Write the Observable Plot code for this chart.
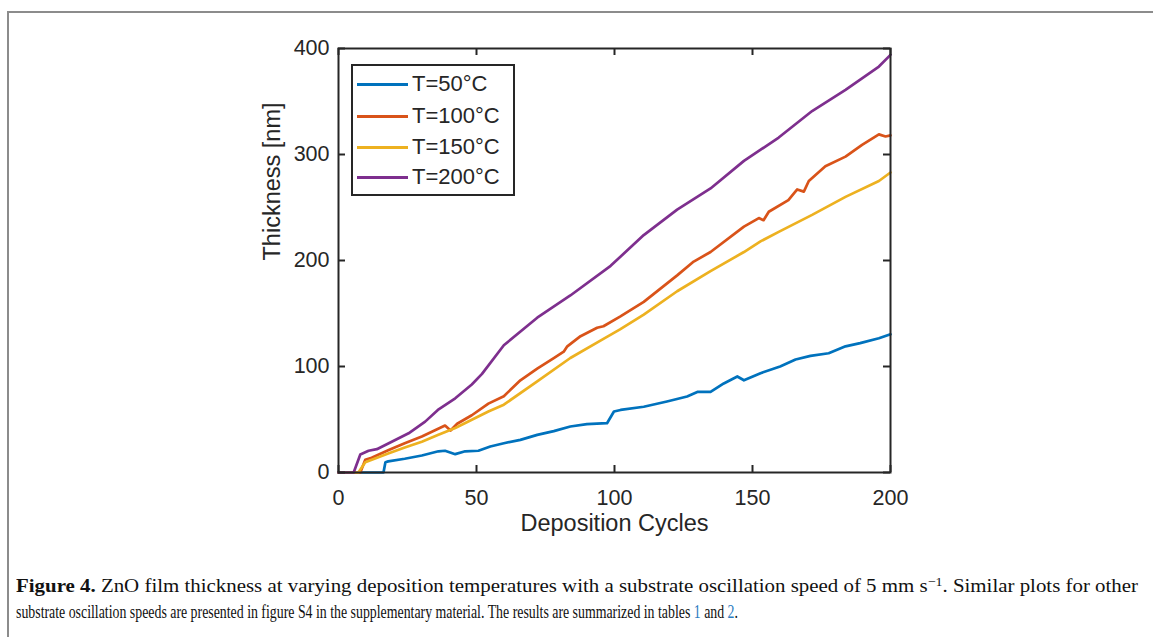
<!DOCTYPE html>
<html><head><meta charset="utf-8">
<script src="https://cdn.jsdelivr.net/npm/d3@7"></script>
<script src="https://cdn.jsdelivr.net/npm/@observablehq/plot@0.6"></script>
<style>
body{margin:0;background:#fff;}
#wrap{position:relative;width:1153px;height:637px;overflow:hidden;font-family:"Liberation Sans",Arial,sans-serif;background:#fff;}
#border{position:absolute;left:7px;top:11px;width:1200px;height:700px;border-left:2px solid #8c8c8c;border-top:2px solid #8c8c8c;}
#chart{position:absolute;left:0;top:0;}
#legend{position:absolute;left:351px;top:64px;width:160px;height:128px;border:2px solid #262626;background:#fff;}
.row{position:absolute;left:0;height:30px;width:160px;}
.row .sw{position:absolute;left:4px;top:14px;width:51px;height:3px;}
.row .lb{position:absolute;left:59px;top:0;font-size:22px;line-height:30px;color:#262626;white-space:nowrap;}
.cap{position:absolute;left:16px;white-space:nowrap;font-family:"Liberation Serif","Times New Roman",serif;font-size:19.5px;line-height:22px;color:#111;transform-origin:0 0;}
.cap b{font-weight:bold;}
.cap sup{font-size:13px;line-height:0;vertical-align:6px;}
.cap .lk{color:#2b7bc0;}
</style></head>
<body><div id="wrap"><div id="border"></div><div id="chart"></div><div id="legend"></div>
<div id="cap1" class="cap" style="top:575px"><b>Figure 4.</b> ZnO film thickness at varying deposition temperatures with a substrate oscillation speed of 5 mm s<sup>&minus;1</sup>. Similar plots for other</div>
<div id="cap2" class="cap" style="top:601px">substrate oscillation speeds are presented in figure S4 in the supplementary material. The results are summarized in tables <span class="lk">1</span> and <span class="lk">2</span>.</div>
</div>
<script>
// ---- data ----
const seriesNames = ["T=50°C", "T=100°C", "T=150°C", "T=200°C"];
const seriesColors = ["#0072BD", "#D95319", "#EDB120", "#7E2F8E"];
const xTicks = [0, 50, 100, 150, 200];
const yTicks = [0, 100, 200, 300, 400];

const x50 = [0,16.3,17,18,24,30.2,36.2,38.6,42.3,45.9,50.7,55,59.9,65.9,72,78,84,90,97.3,99.8,102.2,110.6,119,126.3,130,134.8,139.6,144.5,146.9,152.9,160,165.6,171,177.6,183.7,189,195.8,200];
const y50 = [0,0,9.7,10.5,13,16,20,20.5,17.3,20,20.5,24.5,27.6,30.8,35.5,39,43.4,45.6,46.5,57.5,59,62,67,71.7,76,76,84,90.6,87,93.7,100,106.6,110,112.5,119,122,126.6,130.4];

const x100 = [0,7.9,9.7,12,18,24,30.2,38.6,40.6,43,48.3,54.3,59.9,65.9,72,78,81.6,82.9,87.7,93.7,96,102,110.6,122.7,128.7,134.8,146.9,152.3,154,155.9,163,166.2,168.6,170.4,176.4,183.7,189.7,195.8,198.2,200];
const y100 = [0,0,12,14,21,27.6,34,44.3,39.6,46,54,65,72,87,98,108,114,119,128.6,136.5,138,147,161,186,199,208,232,240,238,246,257,267,265,275,289,298,309,319,317,318];

const x150 = [0,7.2,9.7,18,24,30.2,36.2,42.3,48.3,54.3,59.9,72,84,96,102,110.6,122.7,134.8,146.9,152.9,159.5,171.6,183.7,195.8,200];
const y150 = [0,0,9.7,18,23.6,29,35.5,42,49.7,57.5,64,86,108,126,135,149,171,190,208,218,227,243,260,275,283];

const x200 = [0,5.5,7.9,10.9,13.9,19.3,25.4,31.4,36,42.3,48.3,52,59.9,72,84,98.6,110.6,122.7,134.8,146.9,159.5,171.6,183.7,195.8,200];
const y200 = [0,0,17,20.5,22,29,37,48,59,70,83,93,120,146,167,195,224,248,268,294,316,341,361,383,394];

const xs = [x50, x100, x150, x200];
const ys = [y50, y100, y150, y200];
const rows = [];
seriesNames.forEach((name, i) => xs[i].forEach((x, j) => rows.push({series: name, x, y: ys[i][j]})));

const axisColor = "#262626";
const W = 1153, H = 560, mL = 338, mR = 263, mT = 48, mB = 88;
const innerW = W - mL - mR, innerH = H - mT - mB, tick = 7;
const chart = Plot.plot({
  width: W, height: H,
  marginLeft: mL, marginRight: mR, marginTop: mT, marginBottom: mB,
  style: {fontFamily: '"Liberation Sans", Arial, sans-serif', color: axisColor, background: "transparent"},
  x: {domain: [0, 200]},
  y: {domain: [0, 400]},
  color: {domain: seriesNames, range: seriesColors},
  marks: [
    Plot.line(rows, {x: "x", y: "y", z: "series", stroke: "series", strokeWidth: 2.7, strokeLinejoin: "round", strokeLinecap: "round"}),
    Plot.frame({stroke: axisColor, strokeWidth: 2}),
    Plot.axisX(xTicks, {anchor: "bottom", tickSize: 0, tickPadding: 17, fontSize: 21.5, label: null}),
    Plot.axisY(yTicks, {anchor: "left", tickSize: 0, tickPadding: 9, fontSize: 21.5, label: null}),
    Plot.tickX(xTicks, {x: d => d, insetTop: innerH - tick, stroke: axisColor, strokeWidth: 2}),
    Plot.tickX(xTicks, {x: d => d, insetBottom: innerH - tick, stroke: axisColor, strokeWidth: 2}),
    Plot.tickY(yTicks, {y: d => d, insetRight: innerW - tick, stroke: axisColor, strokeWidth: 2}),
    Plot.tickY(yTicks, {y: d => d, insetLeft: innerW - tick, stroke: axisColor, strokeWidth: 2}),
    Plot.text(["Deposition Cycles"], {frameAnchor: "bottom", dy: 58, fontSize: 23.5, fill: axisColor}),
    Plot.text(["Thickness [nm]"], {frameAnchor: "left", dx: -66, rotate: -90, fontSize: 23.5, fill: axisColor})
  ]
});
document.getElementById("chart").appendChild(chart);

// legend
const leg = document.getElementById("legend");
const rowTops = [3, 35, 66, 96];
seriesNames.forEach((name, i) => {
  const r = document.createElement("div");
  r.className = "row"; r.style.top = rowTops[i] + "px";
  r.innerHTML = `<span class="sw" style="background:${seriesColors[i]}"></span><span class="lb">${name}</span>`;
  leg.appendChild(r);
});

// caption: fit each line to the width it spans in the reference
const c1 = document.getElementById("cap1"), c2 = document.getElementById("cap2");
c1.style.transform = `scaleX(${1122 / c1.getBoundingClientRect().width})`;
c2.style.transform = `scaleX(${722 / c2.getBoundingClientRect().width})`;
</script></body></html>
